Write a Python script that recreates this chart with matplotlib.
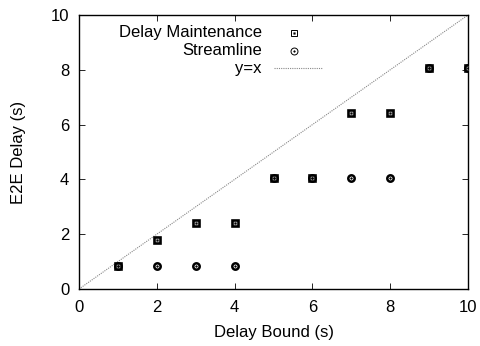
import matplotlib
matplotlib.use("Agg")
import matplotlib.pyplot as plt

plt.rcParams['font.family'] = ['Liberation Sans', 'DejaVu Sans']

# data
bound = [1, 2, 3, 4, 5, 6, 7, 8, 9, 10]
delay_maint = [0.85, 1.8, 2.42, 2.42, 4.05, 4.05, 6.42, 6.42, 8.05, 8.05]
streamline = [0.85, 0.85, 0.85, 0.85, 4.05, 4.05, 4.05, 4.05, 8.05, 8.05]
ticks = [0, 2, 4, 6, 8, 10]

fig = plt.figure(figsize=(4.8, 3.46), dpi=100)
ax = fig.add_axes([0.1646, 0.1647, 0.8104, 0.7919])

# y=x line
ax.plot([0, 10], [0, 10], color='#888888', lw=0.8, ls=(0, (1, 1)), zorder=1)

# delay maintenance: squares
ax.plot(bound, delay_maint, ls='none', marker='s', ms=4.4, mfc='white',
        mec='black', mew=1.9, zorder=3)
ax.plot(bound, delay_maint, ls='none', marker='s', ms=1.2, mfc='black',
        mec='black', mew=0.4, zorder=4)
# streamline: circles
ax.plot(bound, streamline, ls='none', marker='o', ms=4.6, mfc='white',
        mec='black', mew=1.8, zorder=2)
ax.plot(bound, streamline, ls='none', marker='o', ms=1.2, mfc='black',
        mec='black', mew=0.4, zorder=4)

ax.set_xlim(0, 10)
ax.set_ylim(0, 10)
ax.set_xticks(ticks)
ax.set_yticks(ticks)
ax.tick_params(direction='in', length=4, width=0.6, top=True, right=True,
               labelsize=12)
ax.tick_params(axis='x', pad=8)
ax.tick_params(axis='y', pad=7)
for s in ax.spines.values():
    s.set_linewidth(1.0)
ax.set_xlabel('Delay Bound (s)', fontsize=12, labelpad=7)
ax.set_ylabel('E2E Delay (s)', fontsize=12, labelpad=18)

# legend in gnuplot style: text right aligned, sample on the right
labels = ['Delay Maintenance', 'Streamline', 'y=x']
ys = [0.935, 0.87, 0.805]
for lab, yy in zip(labels, ys):
    ax.text(0.47, yy, lab, transform=ax.transAxes, ha='right', va='center',
            fontsize=12)
ax.plot([0.553], [ys[0]], transform=ax.transAxes, marker='s', ms=5,
        mfc='white', mec='black', mew=0.7, clip_on=False)
ax.plot([0.553], [ys[0]], transform=ax.transAxes, marker='s', ms=1.2,
        mfc='black', mec='black', mew=0.3, clip_on=False)
ax.plot([0.553], [ys[1]], transform=ax.transAxes, marker='o', ms=5,
        mfc='white', mec='black', mew=0.7, clip_on=False)
ax.plot([0.553], [ys[1]], transform=ax.transAxes, marker='o', ms=1.2,
        mfc='black', mec='black', mew=0.3, clip_on=False)
ax.plot([0.50, 0.625], [ys[2], ys[2]], transform=ax.transAxes,
        color='#888888', lw=0.8, ls=(0, (1, 1)))

fig.savefig('out.png', dpi=100)
